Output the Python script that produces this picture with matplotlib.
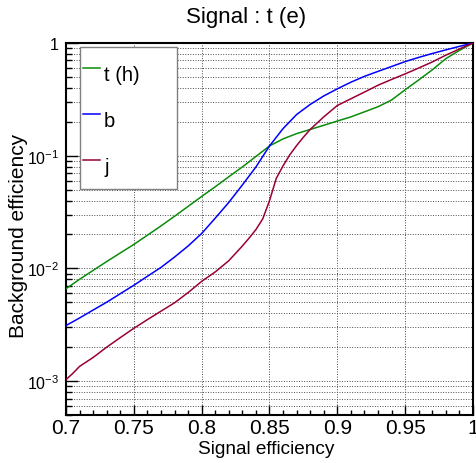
import math
import matplotlib
matplotlib.use("Agg")
import matplotlib.pyplot as plt
from matplotlib.patches import Rectangle
from matplotlib.ticker import FixedLocator, LogLocator, NullFormatter, FuncFormatter, MultipleLocator

plt.rcParams['font.family'] = ['Liberation Sans', 'DejaVu Sans']
plt.rcParams['mathtext.fontset'] = 'custom'
plt.rcParams['mathtext.rm'] = 'Liberation Sans'
plt.rcParams['mathtext.it'] = 'Liberation Sans:italic'
plt.rcParams['mathtext.bf'] = 'Liberation Sans:bold'

title = "Signal : t (e)"
xlabel = "Signal efficiency"
ylabel = "Background efficiency"

labels = ["t (h)", "b", "j"]
colors = ["#0a8c0a", "#0000ff", "#990038"]

sig_t = [0.70, 0.71, 0.72, 0.73, 0.74, 0.75, 0.76, 0.77, 0.78, 0.79, 0.80,
         0.81, 0.82, 0.83, 0.84, 0.85, 0.86, 0.87, 0.88, 0.89, 0.90,
         0.91, 0.92, 0.93, 0.94, 0.95, 0.96, 0.97, 0.98, 0.99, 1.00]
bkg_t = [0.0066, 0.0080, 0.0096, 0.0115, 0.0137, 0.0163, 0.0197, 0.0238, 0.0290, 0.0355, 0.0435,
         0.0530, 0.0650, 0.0795, 0.0985, 0.122, 0.141, 0.157, 0.171, 0.186, 0.203,
         0.221, 0.245, 0.272, 0.312, 0.385, 0.470, 0.578, 0.727, 0.860, 1.0]

sig_b = [0.70, 0.71, 0.72, 0.73, 0.74, 0.75, 0.76, 0.77, 0.78, 0.79, 0.80,
         0.81, 0.82, 0.83, 0.84, 0.85, 0.86, 0.87, 0.88, 0.89, 0.90,
         0.91, 0.92, 0.93, 0.94, 0.95, 0.96, 0.97, 0.98, 0.99, 1.00]
bkg_b = [0.00311, 0.00363, 0.00427, 0.00501, 0.00596, 0.00708, 0.00851, 0.0102, 0.0126, 0.0158, 0.0204,
         0.0279, 0.0385, 0.055, 0.0794, 0.122, 0.174, 0.232, 0.285, 0.339, 0.392,
         0.449, 0.506, 0.560, 0.619, 0.684, 0.745, 0.807, 0.869, 0.933, 1.0]

sig_j = [0.700, 0.705, 0.710, 0.720, 0.730, 0.740, 0.750, 0.760, 0.770, 0.780, 0.790, 0.800,
         0.810, 0.820, 0.830, 0.835, 0.840, 0.845, 0.850, 0.855, 0.860, 0.865, 0.870,
         0.875, 0.880, 0.890, 0.900, 0.910, 0.920, 0.930, 0.940, 0.950, 0.960, 0.970,
         0.980, 0.990, 1.000]
bkg_j = [0.00103, 0.00117, 0.00135, 0.00162, 0.0020, 0.00243, 0.00294, 0.00351, 0.00417, 0.00495, 0.0061, 0.00767,
         0.0093, 0.0117, 0.0158, 0.0186, 0.0221, 0.0275, 0.0398, 0.063, 0.0813, 0.102, 0.123,
         0.146, 0.171, 0.221, 0.279, 0.320, 0.367, 0.422, 0.475, 0.532, 0.600, 0.679,
         0.780, 0.885, 1.0]

xticks = [0.7, 0.75, 0.8, 0.85, 0.9, 0.95, 1.0]
xticklabels = ["0.7", "0.75", "0.8", "0.85", "0.9", "0.95", "1"]

W, H = 477, 464
AX_L, AX_R, AX_T, AX_B = 66, 473, 44, 416
AW, AH = AX_R - AX_L, AX_B - AX_T
fig = plt.figure(figsize=(W / 100, H / 100), dpi=100)
ax = fig.add_axes([AX_L / W, 1 - AX_B / H, AW / W, AH / H])

series = [(sig_t, bkg_t), (sig_b, bkg_b), (sig_j, bkg_j)]
for (xs, ys), c, lab in zip(series, colors, labels):
    ax.plot(xs, ys, color=c, lw=1.1, label=lab, zorder=3)

ax.set_yscale('log')
ax.set_xlim(0.7, 1.0)
ax.set_ylim(5e-4, 1.0)

ax.xaxis.set_major_locator(FixedLocator(xticks))
ax.set_xticklabels(xticklabels)
ax.xaxis.set_minor_locator(MultipleLocator(0.01))


def yfmt(v, pos):
    if abs(v - 1.0) < 1e-9:
        return "1"
    e = int(round(math.log10(v)))
    return r'$\mathregular{10^{%d}}$' % e


ax.yaxis.set_major_locator(LogLocator(base=10, numticks=10))
ax.yaxis.set_major_formatter(FuncFormatter(yfmt))
ax.yaxis.set_minor_locator(LogLocator(base=10, subs=range(2, 10), numticks=20))
ax.yaxis.set_minor_formatter(NullFormatter())

ax.tick_params(axis='both', which='both', direction='in', top=False, right=False, width=1.0)
ax.tick_params(axis='x', which='major', length=7, pad=2.5, labelsize=15)
ax.tick_params(axis='x', which='minor', length=3.5)
ax.tick_params(axis='y', which='major', length=8.5, pad=5, labelsize=11.5)
ax.tick_params(axis='y', which='minor', length=4.3)

gridkw = dict(color='0.3', linestyle=(0, (1, 1.6)), linewidth=0.7)
ax.grid(True, which='major', axis='both', **gridkw)
ax.grid(True, which='minor', axis='y', **gridkw)
ax.set_axisbelow(True)

for s in ax.spines.values():
    s.set_linewidth(1.5)

# legend box (frame) and entries
LB_L, LB_R, LB_T, LB_B = 80, 177, 48, 190
frame = Rectangle(((LB_L - AX_L) / AW, (AX_B - LB_B) / AH), (LB_R - LB_L) / AW, (LB_B - LB_T) / AH,
                  transform=ax.transAxes, facecolor='white', edgecolor='#808080',
                  linewidth=1.0, zorder=4.5)
ax.add_patch(frame)

fs = 14.5
leg = ax.legend(loc='upper left',
                bbox_to_anchor=((83 - AX_L) / AW, (AX_B - 57) / AH),
                fontsize=fs, frameon=False, borderpad=0.0,
                handlelength=0.85, handletextpad=0.2, handleheight=2.4,
                labelspacing=0.48, borderaxespad=0.0)
leg.set_zorder(5)

fig.text(246 / W, 1 - 23 / H, title, ha='center', va='baseline', fontsize=16)
fig.text(266 / W, 1 - 454 / H, xlabel, ha='center', va='baseline', fontsize=13.7)
fig.text(24 / W, 1 - 236 / H, ylabel, ha='center', va='baseline', rotation=90,
         rotation_mode='anchor', fontsize=15)

fig.savefig('out.png', dpi=100)
